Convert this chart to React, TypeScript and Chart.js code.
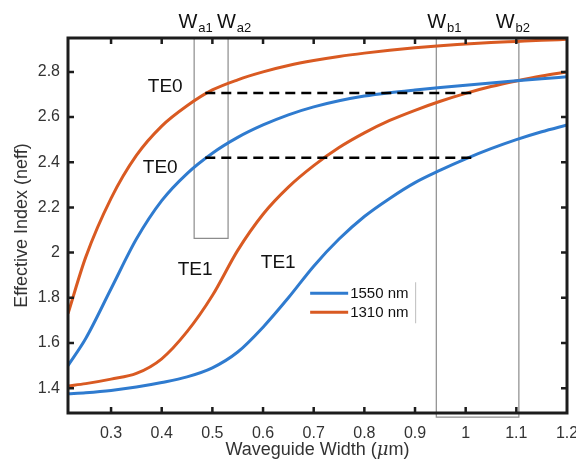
import React, { useEffect, useRef } from 'react';
import { Chart, registerables } from 'chart.js';

Chart.register(...registerables);

// ---- data ----
const widths = [0.215, 0.25, 0.3, 0.35, 0.4, 0.45, 0.5, 0.55, 0.6, 0.65, 0.7, 0.75, 0.8, 0.85, 0.9, 0.95, 1.0, 1.05, 1.1, 1.15, 1.2];
const te0_1550 = [1.5, 1.62, 1.84, 2.06, 2.23, 2.35, 2.44, 2.51, 2.565, 2.61, 2.645, 2.672, 2.693, 2.708, 2.72, 2.731, 2.741, 2.751, 2.761, 2.77, 2.778];
const te1_1550 = [1.375, 1.38, 1.39, 1.405, 1.425, 1.45, 1.49, 1.56, 1.67, 1.8, 1.94, 2.06, 2.16, 2.24, 2.31, 2.365, 2.415, 2.46, 2.5, 2.535, 2.565];
const te0_1310 = [1.73, 1.98, 2.24, 2.43, 2.56, 2.65, 2.72, 2.765, 2.8, 2.828, 2.85, 2.868, 2.883, 2.896, 2.907, 2.916, 2.923, 2.93, 2.935, 2.94, 2.944];
const te1_1310 = [1.41, 1.42, 1.44, 1.465, 1.53, 1.65, 1.81, 2.01, 2.17, 2.29, 2.385, 2.465, 2.53, 2.585, 2.63, 2.67, 2.705, 2.735, 2.76, 2.782, 2.8];
const seriesNames = ['1550 nm', '1310 nm'];

const xTicks = [0.3, 0.4, 0.5, 0.6, 0.7, 0.8, 0.9, 1, 1.1, 1.2];
const yTicks = [1.4, 1.6, 1.8, 2, 2.2, 2.4, 2.6, 2.8];
const xRange = [0.215, 1.2];
const yRange = [1.29, 2.95];

// matched effective-index levels (dashed) and their width span
const matchLevels = [2.707, 2.42];
const matchSpan = [0.486, 1.015];

// width windows
const windowA = [0.464, 0.531];
const windowABottom = 2.063;
const windowB = [0.942, 1.105];
const windowBBottom = 1.272;

const windowSubs = ['a1', 'a2', 'b1', 'b2'];
const windowLabelX = [0.467, 0.543, 0.958, 1.093];

const modeNames = ['TE0', 'TE0', 'TE1', 'TE1'];
const modeLabelX = [0.407, 0.397, 0.466, 0.63];
const modeLabelY = [2.732, 2.374, 1.922, 1.953];

// ---- styles ----
const BLUE = '#2f7bcf';
const ORANGE = '#d95a22';
const FONT = "'Liberation Sans', Arial, Helvetica, sans-serif";

const pts = (ys: number[]) => widths.map((x, i) => ({ x, y: ys[i] }));

const decorPlugin = {
  id: 'decor',
  afterDraw(chart: any) {
    const { ctx, chartArea: a, scales } = chart;
    const xs = scales.x;
    const ys = scales.y;
    ctx.save();
    // frame
    ctx.strokeStyle = '#1c1c1c';
    ctx.lineWidth = 3;
    ctx.strokeRect(a.left, a.top, a.right - a.left, a.bottom - a.top);
    // inward ticks
    ctx.lineWidth = 2.5;
    const tl = 6;
    ctx.beginPath();
    xTicks.forEach((v) => {
      const px = xs.getPixelForValue(v);
      if (px > a.right - 2) return;
      ctx.moveTo(px, a.bottom);
      ctx.lineTo(px, a.bottom - tl);
      ctx.moveTo(px, a.top);
      ctx.lineTo(px, a.top + tl);
    });
    yTicks.forEach((v) => {
      const py = ys.getPixelForValue(v);
      ctx.moveTo(a.left, py);
      ctx.lineTo(a.left + tl, py);
      ctx.moveTo(a.right, py);
      ctx.lineTo(a.right - tl, py);
    });
    ctx.stroke();

    // mode labels
    ctx.fillStyle = '#111';
    ctx.font = `19px ${FONT}`;
    ctx.textAlign = 'center';
    ctx.textBaseline = 'middle';
    modeNames.forEach((t, i) => {
      ctx.fillText(t, xs.getPixelForValue(modeLabelX[i]), ys.getPixelForValue(modeLabelY[i]));
    });

    // window labels W_sub
    ctx.textAlign = 'left';
    ctx.textBaseline = 'alphabetic';
    windowSubs.forEach((s, i) => {
      ctx.font = `20px ${FONT}`;
      const wW = ctx.measureText('W').width;
      ctx.font = `13px ${FONT}`;
      const sW = ctx.measureText(s).width;
      const cx = xs.getPixelForValue(windowLabelX[i]);
      const x0 = cx - (wW + sW + 1) / 2;
      const base = a.top - 10;
      ctx.font = `20px ${FONT}`;
      ctx.fillText('W', x0, base);
      ctx.font = `13px ${FONT}`;
      ctx.fillText(s, x0 + wW + 1, base + 4);
    });

    // legend
    const lx = xs.getPixelForValue(0.693);
    const ly = ys.getPixelForValue(1.82);
    const colors = [BLUE, ORANGE];
    ctx.lineWidth = 3;
    ctx.font = `15px ${FONT}`;
    ctx.textBaseline = 'middle';
    ctx.fillStyle = '#111';
    seriesNames.forEach((n, i) => {
      const y = ly + i * 19;
      ctx.strokeStyle = colors[i];
      ctx.beginPath();
      ctx.moveTo(lx, y);
      ctx.lineTo(lx + 38, y);
      ctx.stroke();
      ctx.fillText(n, lx + 40, y + 1);
    });
    ctx.strokeStyle = '#bdbdbd';
    ctx.lineWidth = 1;
    ctx.beginPath();
    ctx.moveTo(lx + 105.5, ly - 11);
    ctx.lineTo(lx + 105.5, ly + 30);
    ctx.stroke();

    // axis titles
    ctx.fillStyle = '#333';
    ctx.textBaseline = 'middle';
    const cx = (a.left + a.right) / 2;
    const parts = [
      { t: 'Waveguide Width (', f: `18px ${FONT}` },
      { t: 'μ', f: `italic 18px 'DejaVu Serif', serif` },
      { t: 'm)', f: `18px ${FONT}` },
    ];
    let total = 0;
    parts.forEach((p) => {
      ctx.font = p.f;
      total += ctx.measureText(p.t).width;
    });
    let x = cx - total / 2;
    ctx.textAlign = 'left';
    parts.forEach((p) => {
      ctx.font = p.f;
      ctx.fillText(p.t, x, a.bottom + 37);
      x += ctx.measureText(p.t).width;
    });
    ctx.translate(22, (a.top + a.bottom) / 2);
    ctx.rotate(-Math.PI / 2);
    ctx.textAlign = 'center';
    ctx.font = `18px ${FONT}`;
    ctx.fillText('Effective Index (neff)', 0, 0);
    ctx.restore();
  },
};

export default function App() {
  const ref = useRef<HTMLCanvasElement | null>(null);
  useEffect(() => {
    document.body.style.margin = '0';
    const canvas = ref.current;
    if (!canvas) return;
    const line = (label: string, ys: number[], color: string) => ({
      label,
      data: pts(ys),
      borderColor: color,
      backgroundColor: color,
      borderWidth: 3,
      pointRadius: 0,
      cubicInterpolationMode: 'monotone' as const,
      order: 1,
    });
    const dashed = matchLevels.map((lvl) => ({
      label: 'match',
      data: [
        { x: matchSpan[0], y: lvl },
        { x: matchSpan[1], y: lvl },
      ],
      borderColor: '#000',
      borderWidth: 2.5,
      borderDash: [10, 6],
      pointRadius: 0,
      order: 0,
    }));
    const box = (range: number[], bottom: number) => ({
      label: 'window',
      data: [
        { x: range[0], y: yRange[1] },
        { x: range[0], y: bottom },
        { x: range[1], y: bottom },
        { x: range[1], y: yRange[1] },
      ],
      borderColor: '#8c8c8c',
      borderWidth: 1.2,
      pointRadius: 0,
      clip: false as any,
      order: 2,
    });
    const chart = new Chart(canvas, {
      type: 'line',
      data: {
        datasets: [
          ...dashed,
          line(seriesNames[0], te0_1550, BLUE),
          line(seriesNames[0], te1_1550, BLUE),
          line(seriesNames[1], te0_1310, ORANGE),
          line(seriesNames[1], te1_1310, ORANGE),
          box(windowA, windowABottom),
          box(windowB, windowBBottom),
        ] as any,
      },
      options: {
        responsive: false,
        animation: false,
        devicePixelRatio: 1,
        layout: { padding: { top: 38, right: 9, left: 0, bottom: 0 } },
        plugins: { legend: { display: false }, tooltip: { enabled: false } },
        scales: {
          x: {
            type: 'linear',
            min: xRange[0],
            max: xRange[1],
            grid: { display: false, drawTicks: false },
            border: { display: false },
            afterBuildTicks: (s: any) => {
              s.ticks = xTicks.map((v) => ({ value: v }));
            },
            afterFit: (s: any) => {
              s.height = 53;
              s.paddingLeft = 0;
              s.paddingRight = 0;
            },
            ticks: {
              font: { family: FONT, size: 16 },
              color: '#333',
              padding: 11,
              maxRotation: 0,
              autoSkip: false,
              callback: (v: any) => String(Math.round(v * 10) / 10),
            },
          },
          y: {
            type: 'linear',
            min: yRange[0],
            max: yRange[1],
            grid: { display: false, drawTicks: false },
            border: { display: false },
            afterBuildTicks: (s: any) => {
              s.ticks = yTicks.map((v) => ({ value: v }));
            },
            afterFit: (s: any) => {
              s.width = 68;
              s.paddingTop = 0;
              s.paddingBottom = 0;
            },
            ticks: {
              font: { family: FONT, size: 16 },
              color: '#333',
              padding: 8,
              autoSkip: false,
              callback: (v: any) => String(Math.round(v * 10) / 10),
            },
          },
        },
      },
      plugins: [decorPlugin],
    });
    return () => chart.destroy();
  }, []);
  return (
    <div style={{ position: 'absolute', left: 0, top: 0, width: 576, height: 466, background: '#fff' }}>
      <canvas ref={ref} width={576} height={466} />
    </div>
  );
}
